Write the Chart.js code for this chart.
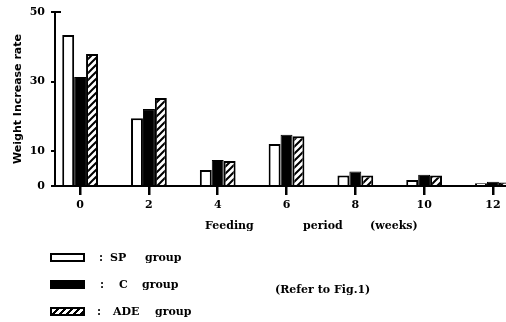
<!DOCTYPE html>
<html><head><meta charset="utf-8">
<script src="https://cdn.jsdelivr.net/npm/chart.js@4/dist/chart.umd.min.js"></script>
<style>
html,body{margin:0;padding:0;background:#fff;}
#wrap{position:relative;width:506px;height:322px;overflow:hidden;}
canvas{position:absolute;left:0;top:0;}
.t{position:absolute;font-family:"DejaVu Serif";font-weight:bold;font-size:11px;color:#000;white-space:pre;line-height:12px;}
.box{position:absolute;left:50px;width:35px;height:9px;box-sizing:border-box;border:2px solid #000;background:#fff;}
</style></head><body>
<div id="wrap">
<canvas id="c" width="506" height="322"></canvas>
<span class="t" style="left:205px;top:220px">Feeding</span>
<span class="t" style="left:303px;top:220px">period</span>
<span class="t" style="left:370px;top:220px">(weeks)</span>

<div class="box" style="top:253px"></div>
<span class="t" style="left:99px;top:252px">:</span>
<span class="t" style="left:110px;top:252px">SP</span>
<span class="t" style="left:145px;top:252px">group</span>

<div class="box" style="top:280px;background:#000"></div>
<span class="t" style="left:100px;top:279px">:</span>
<span class="t" style="left:119px;top:279px">C</span>
<span class="t" style="left:142px;top:279px">group</span>

<div class="box" style="top:307px;background:repeating-linear-gradient(135deg,#fff 0 3px,#000 3px 5px)"></div>
<span class="t" style="left:97px;top:306px">:</span>
<span class="t" style="left:113px;top:306px">ADE</span>
<span class="t" style="left:155px;top:306px">group</span>

<span class="t" style="left:275px;top:284px">(Refer to Fig.1)</span>
</div>
<script>
const weekLabels = ['0','2','4','6','8','10','12'];
const weeks = [0, 2, 4, 6, 8, 10, 12];
const spGroup  = [43.4, 19.5, 4.6, 12.1, 3.0, 1.7, 0.8];
const cGroup   = [31.3, 22.1, 7.5, 14.7, 4.2, 3.2, 1.2];
const adeGroup = [37.9, 25.3, 7.2, 14.3, 3.0, 3.0, 1.0];
const yTicks = [0, 10, 30, 50];

function hatch(){
  const s = 7;
  const p = document.createElement('canvas'); p.width = s; p.height = s;
  const g = p.getContext('2d');
  g.fillStyle = '#fff'; g.fillRect(0,0,s,s);
  g.strokeStyle = '#000'; g.lineWidth = 2;
  g.beginPath();
  g.moveTo(-1, s+1); g.lineTo(s+1, -1);
  g.moveTo(-s/2-1, s/2+1); g.lineTo(s/2+1, -s/2-1);
  g.moveTo(s/2-1, s*1.5+1); g.lineTo(s*1.5+1, s/2-1);
  g.stroke();
  return g.createPattern(p, 'repeat');
}
const pts = arr => arr.map((v,i) => ({x: weeks[i], y: v}));
const tickFont = {family: 'DejaVu Serif', weight: 'bold', size: 11};

// short stub pointing right at the top of the value axis
const topStub = {
  id: 'topStub',
  afterDraw(chart) {
    const ctx = chart.ctx, ys = chart.scales.y;
    const py = Math.round(ys.getPixelForValue(ys.max));
    ctx.save();
    ctx.fillStyle = '#000';
    ctx.fillRect(Math.round(ys.right) - 1, py - 1, 7, 2);
    ctx.restore();
  }
};

new Chart(document.getElementById('c'), {
  type: 'bar',
  data: {
    datasets: [
      {label: 'SP group', data: pts(spGroup), backgroundColor: '#fff', borderColor: '#000', borderWidth: 2},
      {label: 'C group', data: pts(cGroup), backgroundColor: '#000', borderColor: '#000', borderWidth: 1},
      {label: 'ADE group', data: pts(adeGroup), backgroundColor: hatch(), borderColor: '#000', borderWidth: 2}
    ]
  },
  plugins: [topStub],
  options: {
    responsive: false,
    animation: false,
    categoryPercentage: 0.52,
    barPercentage: 1.0,
    layout: {padding: {top: 12, left: 0, right: 0, bottom: 100}},
    plugins: {legend: {display: false}, tooltip: {enabled: false}},
    scales: {
      x: {
        type: 'linear', min: -0.73, max: 12.38, offset: false,
        afterFit: s => { s.height = 36; s.paddingLeft = 0; s.paddingRight = 0; },
        afterBuildTicks: s => { s.ticks = weeks.map(v => ({value: v})); },
        ticks: {
          callback: (v, i) => weekLabels[i],
          color: '#000', font: tickFont, padding: 4,
          maxRotation: 0, autoSkip: false
        },
        grid: {display: true, offset: false, drawOnChartArea: false, drawTicks: true, tickLength: 9, color: '#000', lineWidth: 2.5},
        border: {display: true, color: '#000', width: 2}
      },
      y: {
        min: 0, max: 50,
        afterFit: s => { s.width = 55; s.paddingTop = 0; s.paddingBottom = 0; },
        afterBuildTicks: s => { s.ticks = yTicks.map(v => ({value: v})); },
        ticks: {color: '#000', font: tickFont, padding: 6},
        grid: {display: true, drawOnChartArea: false, drawTicks: true, tickLength: 4, color: '#000', lineWidth: 2},
        border: {display: true, color: '#000', width: 2},
        title: {display: true, text: 'Weight Increase rate', color: '#000',
                font: {family: 'DejaVu Sans', weight: 'bold', size: 11}, padding: {top: 12, bottom: 0}}
      }
    }
  }
});
</script>
</body></html>
